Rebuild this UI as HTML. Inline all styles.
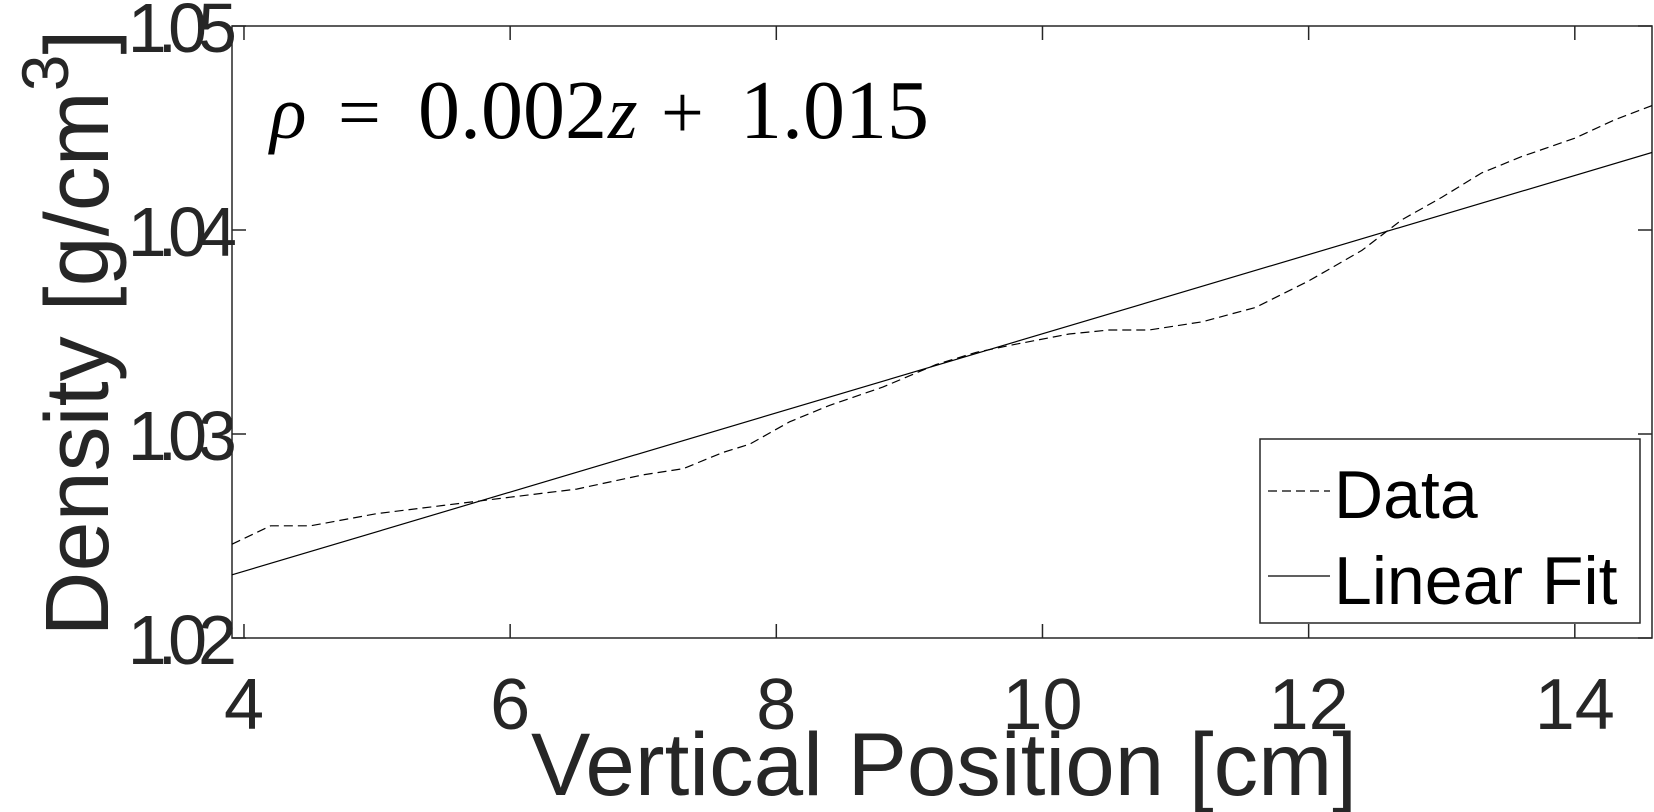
<!DOCTYPE html>
<html><head><meta charset="utf-8"><style>
html,body{margin:0;padding:0;background:#fff;}
svg{display:block;}
</style></head><body>
<svg id="chart" width="1654" height="812" viewBox="0 0 1654 812" xmlns="http://www.w3.org/2000/svg">
</svg>
<script>
const xData=[3.91,4.2,4.5,5,5.5,6,6.5,7,7.3,7.6,7.8,8.1,8.4,8.8,9.2,9.5,9.8,10.2,10.5,10.8,11.2,11.6,12.0,12.4,12.7,13.0,13.3,13.6,14.0,14.3,14.58];
const yData=[1.0246,1.0255,1.0255,1.0261,1.0265,1.0269,1.0273,1.0280,1.0283,1.0291,1.0295,1.0306,1.0314,1.0323,1.0334,1.0340,1.0344,1.0349,1.0351,1.0351,1.0355,1.0362,1.0375,1.0390,1.0405,1.0416,1.0428,1.0436,1.0445,1.0454,1.0461];
const xFit=[3.91,14.58];
const yFit=[1.0231,1.0438];
const xTicks=[4,6,8,10,12,14];
const yTicks=[1.02,1.03,1.04,1.05];
const yTickLabels=["1.02","1.03","1.04","1.05"];

const L=232,R=1652,T=26,B=638,xMin=3.91,xMax=14.58,yMin=1.02,yMax=1.05;
const sx=v=>L+(v-xMin)/(xMax-xMin)*(R-L);
const sy=v=>B-(v-yMin)/(yMax-yMin)*(B-T);
const NS="http://www.w3.org/2000/svg";
const svg=document.getElementById('chart');
function mk(tag,attrs,parent){const e=document.createElementNS(NS,tag);for(const k in attrs)e.setAttribute(k,attrs[k]);(parent||svg).appendChild(e);return e;}

const box=mk('rect',{x:L,y:T,width:R-L,height:B-T,fill:'none',stroke:'#262626','stroke-width':1.5});



xTicks.forEach(v=>{
  const x=sx(v);
  const t1=mk('line',{x1:x,x2:x,y1:B,y2:B-14,stroke:'#262626','stroke-width':1.5});
  
  
  mk('line',{x1:x,x2:x,y1:T,y2:T+14,stroke:'#262626','stroke-width':1.5});
  const t=mk('text',{x:x,y:729,'text-anchor':'middle','font-family':'Liberation Sans, sans-serif','font-size':72,fill:'#262626'});
  t.textContent=v;
  
  
});
yTicks.forEach((v,i)=>{
  const y=sy(v);
  const t1=mk('line',{x1:L,x2:L+14,y1:y,y2:y,stroke:'#262626','stroke-width':1.5});
  
  
  mk('line',{x1:R,x2:R-14,y1:y,y2:y,stroke:'#262626','stroke-width':1.5});
  const t=mk('text',{x:228,y:y+26,'text-anchor':'end','font-family':'Liberation Sans, sans-serif','font-size':70,'letter-spacing':-9,fill:'#262626'});
  t.textContent=yTickLabels[i];
  
  
});

const dPath=xData.map((v,i)=>(i?'L':'M')+sx(v).toFixed(1)+' '+sy(yData[i]).toFixed(1)).join(' ');
const dl=mk('path',{d:dPath,fill:'none',stroke:'#000','stroke-width':1.2,'stroke-dasharray':'9 5'});


const fPath=xFit.map((v,i)=>(i?'L':'M')+sx(v).toFixed(1)+' '+sy(yFit[i]).toFixed(1)).join(' ');
const fl=mk('path',{d:fPath,fill:'none',stroke:'#000','stroke-width':1.2});



const eq=mk('text',{x:270,y:138,'font-family':'Liberation Serif, serif','font-size':76,fill:'#000'});
eq.innerHTML='<tspan x="270" font-style="italic">ρ</tspan><tspan x="338">=</tspan><tspan x="418" font-size="84">0.002</tspan><tspan x="608" font-style="italic">z</tspan><tspan x="661">+</tspan><tspan x="740" font-size="84">1.015</tspan>';



const lg=mk('g',{});


mk('rect',{x:1260,y:439,width:380,height:184,fill:'#fff',stroke:'#262626','stroke-width':1.5},lg);
mk('line',{x1:1268,x2:1330,y1:491,y2:491,stroke:'#000','stroke-width':1.2,'stroke-dasharray':'9 5'},lg);
const lt1=mk('text',{x:1334,y:518,'font-family':'Liberation Sans, sans-serif','font-size':68,fill:'#000'},lg);
lt1.textContent='Data';


mk('line',{x1:1268,x2:1330,y1:576,y2:576,stroke:'#000','stroke-width':1.2},lg);
const lt2=mk('text',{x:1334,y:604,'font-family':'Liberation Sans, sans-serif','font-size':68,fill:'#000'},lg);
lt2.textContent='Linear Fit';



const xt=mk('text',{x:944,y:795,'text-anchor':'middle','font-family':'Liberation Sans, sans-serif','font-size':89,fill:'#262626'});
xt.textContent='Vertical Position [cm]';


const yt=mk('text',{x:0,y:0,'text-anchor':'middle','font-family':'Liberation Sans, sans-serif','font-size':90,fill:'#262626',transform:'translate(108,333) rotate(-90)'});
yt.innerHTML='Density [g/cm<tspan dy="-40" font-size="66">3</tspan><tspan dy="40">]</tspan>';


</script>
</body></html>
